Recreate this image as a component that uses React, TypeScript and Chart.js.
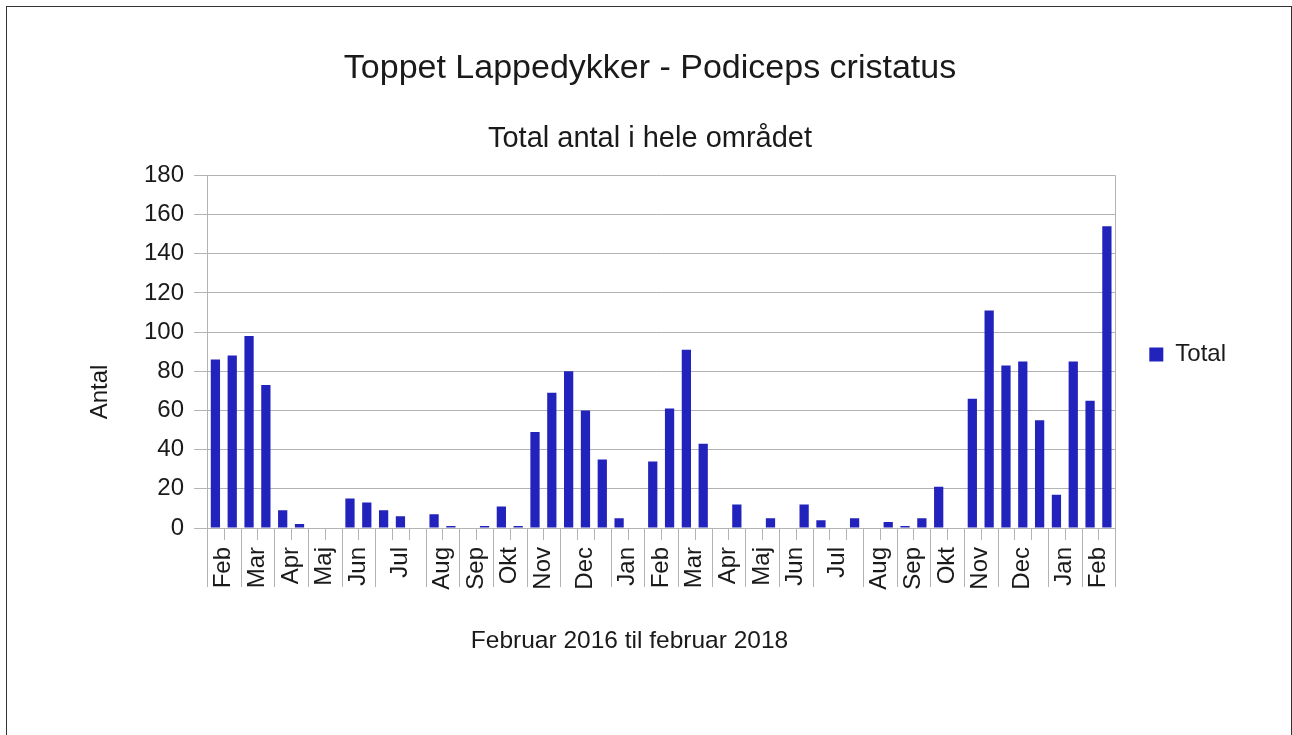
import React, { useEffect, useRef } from "react";
import { Chart, registerables } from "chart.js";

Chart.register(...registerables);

// One entry per observation (two or three counts per month), Feb 2016 – Feb 2018
const categories = [
  "Feb", "Feb", "Mar", "Mar", "Apr", "Apr", "Maj", "Maj", "Jun", "Jun",
  "Jul", "Jul", "Jul", "Aug", "Aug", "Sep", "Sep", "Okt", "Okt", "Nov", "Nov",
  "Dec", "Dec", "Dec", "Jan", "Jan",
  "Feb", "Feb", "Mar", "Mar", "Apr", "Apr", "Maj", "Maj", "Jun", "Jun",
  "Jul", "Jul", "Jul", "Aug", "Aug", "Sep", "Sep", "Okt", "Okt", "Nov", "Nov",
  "Dec", "Dec", "Dec", "Jan", "Jan",
  "Feb", "Feb",
];

const totals: (number | null)[] = [
  86, 88, 98, 73, 9, 2, null, null, 15, 13,
  9, 6, null, 7, 1, null, 1, 11, 1, 49, 69,
  80, 60, 35, 5, null,
  34, 61, 91, 43, null, 12, null, 5, null, 12,
  4, null, 5, null, 3, 1, 5, 21, null, 66, 111,
  83, 85, 55, 17, 85,
  65, 154,
];

const yTicks = [0, 20, 40, 60, 80, 100, 120, 140, 160, 180];

const titleText = "Toppet Lappedykker - Podiceps cristatus";
const subtitleText = "Total antal i hele området";
const xTitleText = "Februar 2016 til februar 2018";
const yTitleText = "Antal";
const seriesName = "Total";

const FONT = '"Liberation Sans", Arial, sans-serif';
const TEXT = "#1a1a1a";
const GRID = "#b3b3b3";
const BAR = "#2222bd";

export default function App() {
  const ref = useRef<HTMLCanvasElement>(null);

  useEffect(() => {
    if (!ref.current) return;

    // month groups from consecutive equal category labels
    const groups: { label: string; start: number; end: number }[] = [];
    categories.forEach((c, i) => {
      const g = groups[groups.length - 1];
      if (g && g.label === c && g.end === i) g.end = i + 1;
      else groups.push({ label: c, start: i, end: i + 1 });
    });
    const groupStarts = new Set(groups.map((g) => g.start));

    const decor = {
      id: "decor",
      afterDraw(chart: any) {
        const { ctx, chartArea: a } = chart;
        const n = categories.length;
        const w = (a.right - a.left) / n;
        ctx.save();
        ctx.strokeStyle = GRID;
        ctx.lineWidth = 1;
        for (let k = 0; k <= n; k++) {
          const x = Math.round(a.left + k * w) + 0.5;
          const long = k === 0 || k === n || groupStarts.has(k);
          ctx.beginPath();
          ctx.moveTo(x, k === n ? a.top : a.bottom);
          ctx.lineTo(x, a.bottom + (long ? 59 : 12));
          ctx.stroke();
        }
        ctx.fillStyle = TEXT;
        ctx.font = `24px ${FONT}`;
        // month labels, centred on their group of observations
        groups.forEach((g) => {
          const x = a.left + ((g.start + g.end) / 2) * w;
          ctx.save();
          ctx.translate(x, a.bottom + 19);
          ctx.rotate(-Math.PI / 2);
          ctx.textAlign = "right";
          ctx.textBaseline = "middle";
          ctx.fillText(g.label, 0, 0);
          ctx.restore();
        });
        ctx.textAlign = "center";
        ctx.textBaseline = "middle";
        ctx.font = `24.5px ${FONT}`;
        ctx.fillText(xTitleText, 629.5, 641);
        ctx.font = `24px ${FONT}`;
        ctx.translate(100, 392);
        ctx.rotate(-Math.PI / 2);
        ctx.fillText(yTitleText, 0, 0);
        ctx.restore();
      },
    };

    const chart = new Chart(ref.current, {
      type: "bar",
      data: {
        labels: categories,
        datasets: [
          {
            label: seriesName,
            data: totals,
            backgroundColor: BAR,
            borderWidth: 0,
            barPercentage: 0.55,
            categoryPercentage: 1,
          },
        ],
      },
      options: {
        animation: false,
        responsive: false,
        maintainAspectRatio: false,
        layout: { padding: { left: 64, right: 56, top: 0, bottom: 26 } },
        plugins: {
          title: {
            display: true,
            text: titleText,
            color: TEXT,
            font: { family: FONT, size: 34, weight: "normal" },
            padding: { top: 48, bottom: 0 },
          },
          subtitle: {
            display: true,
            text: subtitleText,
            color: TEXT,
            font: { family: FONT, size: 29, weight: "normal" },
            padding: { top: 32.8, bottom: 19 },
          },
          legend: {
            display: true,
            position: "right",
            labels: {
              boxWidth: 14,
              boxHeight: 14,
              padding: 34,
              color: TEXT,
              font: { family: FONT, size: 24 },
            },
          },
          tooltip: { enabled: false },
        },
        scales: {
          x: {
            type: "category",
            offset: true,
            ticks: { display: false },
            grid: { display: false, drawTicks: false },
            border: { display: true, color: GRID },
            afterFit: (s: any) => {
              s.height = 181;
            },
          },
          y: {
            min: 0,
            max: 180,
            afterBuildTicks: (s: any) => {
              s.ticks = yTicks.map((v) => ({ value: v }));
            },
            ticks: {
              padding: 10,
              color: TEXT,
              font: { family: FONT, size: 24 },
            },
            grid: { color: GRID, tickColor: GRID, tickLength: 13, lineWidth: 1 },
            border: { display: true, color: GRID },
            afterFit: (s: any) => {
              s.width = 143;
            },
          },
        },
      },
      plugins: [decor],
    });

    return () => chart.destroy();
  }, []);

  return (
    <div>
      <div
        style={{
          position: "fixed",
          left: 6,
          top: 6,
          width: 1284,
          height: 800,
          border: "1px solid #333",
          background: "#fff",
          boxSizing: "content-box",
        }}
      />
      <canvas
        ref={ref}
        width={1292}
        height={735}
        style={{ position: "fixed", left: 0, top: 0, width: 1292, height: 735 }}
      />
    </div>
  );
}
